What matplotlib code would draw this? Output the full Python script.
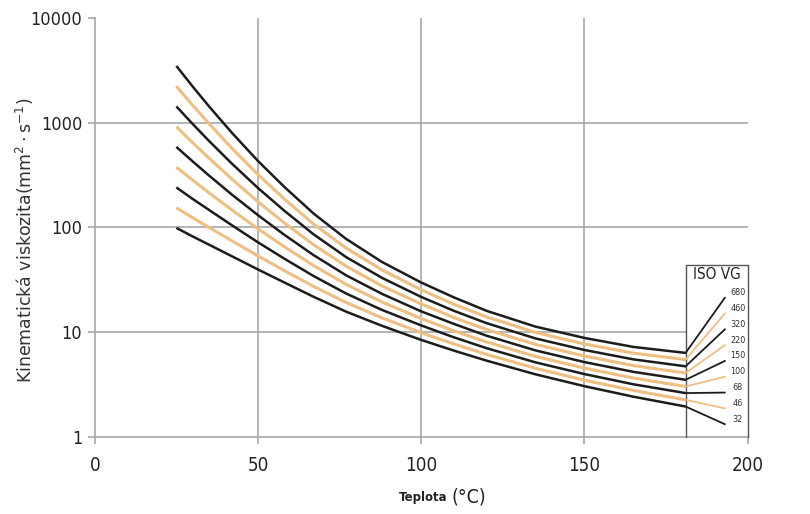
import numpy as np
import matplotlib.pyplot as plt

# ----- data (mm2/s at each temperature, degC)
temps = [25, 30, 35, 42, 50, 58, 67, 77, 88, 100, 110, 120, 135, 150, 165, 181]
grades = ['680', '460', '320', '220', '150', '100', '68', '46', '32']
vg680 = [3482, 2214, 1432, 802, 431, 245, 136, 77.7, 46.8, 29.8, 21.5, 16.0, 11.3, 8.81, 7.23, 6.34]
vg460 = [2231, 1467, 980, 571, 320, 188, 108, 63.6, 39.3, 25.4, 18.5, 14.0, 9.95, 7.72, 6.31, 5.47]
vg320 = [1430, 972, 670, 407, 238, 145, 86.1, 52.1, 33.0, 21.7, 16.0, 12.2, 8.72, 6.76, 5.50, 4.72]
vg220 = [916, 644, 458, 290, 176, 111, 68.5, 42.7, 27.6, 18.6, 13.8, 10.6, 7.65, 5.92, 4.80, 4.07]
vg150 = [587, 427, 313, 206, 131, 85.4, 54.5, 34.9, 23.2, 15.8, 12.0, 9.26, 6.70, 5.18, 4.18, 3.51]
vg100 = [376, 283, 214, 147, 97.1, 65.7, 43.3, 28.6, 19.4, 13.5, 10.3, 8.07, 5.88, 4.54, 3.65, 3.03]
vg68 = [241, 187, 147, 105, 72.1, 50.5, 34.4, 23.4, 16.3, 11.6, 8.93, 7.04, 5.15, 3.98, 3.18, 2.62]
vg46 = [154, 124, 100, 74.6, 53.5, 38.8, 27.4, 19.2, 13.7, 9.87, 7.72, 6.14, 4.52, 3.48, 2.78, 2.26]
vg32 = [99, 82, 68.5, 53.1, 39.7, 29.9, 21.8, 15.7, 11.5, 8.43, 6.67, 5.35, 3.96, 3.05, 2.42, 1.95]
curves = [vg680, vg460, vg320, vg220, vg150, vg100, vg68, vg46, vg32]

xticks = [0, 50, 100, 150, 200]
yticks = [1, 10, 100, 1000, 10000]

# ----- style
black = '#1c1c1c'
orange = '#eebf80'
grey = '#a8a8a8'
cond = dict(family='DejaVu Sans', stretch='condensed')

fig = plt.figure(figsize=(8.1, 5.14), dpi=100)
ax = fig.add_axes([0.117, 0.150, 0.806, 0.815])
ax.set_yscale('log')
ax.set_xlim(0, 200)
ax.set_ylim(1, 10000)

# grid
for gx in [50, 100, 150]:
    ax.axvline(gx, color=grey, lw=1.2, zorder=1)
for gy in [100, 1000]:
    ax.axhline(gy, color=grey, lw=1.2, zorder=1)
ax.plot([0, 181], [10, 10], color=grey, lw=1.2, zorder=1)

for sp in ['top', 'right']:
    ax.spines[sp].set_visible(False)
for sp in ['left', 'bottom']:
    ax.spines[sp].set_color(grey)
    ax.spines[sp].set_linewidth(1.2)

ax.set_xticks(xticks)
ax.set_xticklabels([str(t) for t in xticks], fontsize=13.5, color='#222222', **cond)
ax.set_yticks(yticks)
ax.set_yticklabels([str(t) for t in yticks], fontsize=13, color='#222222', **cond)
ax.minorticks_off()
ax.tick_params(axis='both', direction='out', length=5, color=grey, width=1.2)
ax.tick_params(axis='x', pad=9)
ax.tick_params(axis='y', pad=4)

# curves
for i, vals in enumerate(curves):
    col = black if i % 2 == 0 else orange
    ax.plot(temps, vals, color=col, lw=2.2 if i % 2 else 1.8,
            solid_capstyle='butt', solid_joinstyle='round', zorder=3)

# ISO VG box with leader lines
box_top = 10 ** (4 * 0.41)
ax.plot([181, 181, 200, 200], [1, box_top, box_top, 1],
        color='#555555', lw=1.0, zorder=4, clip_on=False)
ax.text(0.953, 0.387, 'ISO VG', transform=ax.transAxes, ha='center',
        va='center', fontsize=11, color='#222222', **cond)
ax2d = ax.transAxes - ax.transData
for i, g in enumerate(grades):
    ly = 0.344 - i * 0.0377
    ex, ey = ax2d.transform((0.965, ly - 0.012))
    col = black if i % 2 == 0 else orange
    ax.plot([181, ex], [curves[i][-1], ey], color=col, lw=1.3, zorder=4,
            clip_on=False)
    ax.text(0.985, ly, g, transform=ax.transAxes, ha='center', va='center',
            fontsize=6.5, color='#333333', **cond)

# axis labels
ax.set_ylabel('Kinematická viskozita$\\left(\\mathrm{mm^{2}\\cdot s^{-1}}\\right)$',
              fontsize=12.5, color='#333333')
ax.yaxis.set_label_coords(-0.09, 0.47)
fig.text(0.553, 0.033, 'Teplota', ha='right', va='center', fontsize=8.5,
         fontweight='bold', color='#222222')
fig.text(0.557, 0.033, '(°C)', ha='left', va='center', fontsize=14,
         color='#222222', **cond)

fig.savefig('out.png', dpi=100)
